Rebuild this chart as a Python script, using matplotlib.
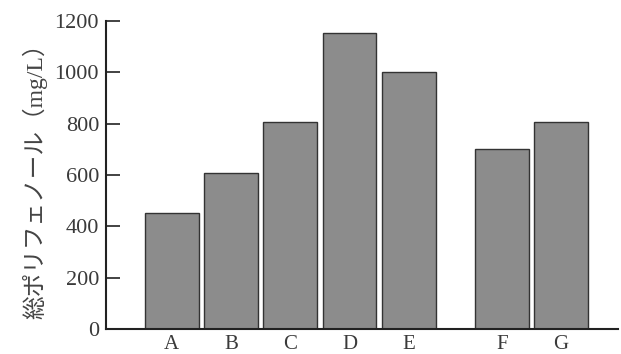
import matplotlib
matplotlib.use("Agg")
import matplotlib.pyplot as plt

categories = ["A", "B", "C", "D", "E", "F", "G"]
positions = [0, 1, 2, 3, 4, 5.57, 6.57]
values = [452, 608, 806, 1153, 1002, 701, 806]
yticks = [0, 200, 400, 600, 800, 1000, 1200]

fig = plt.figure(figsize=(6.21, 3.54), dpi=100)
ax = fig.add_axes([0.1707, 0.0706, 0.8243, 0.8701])

ax.bar(positions, values, width=0.91, color="#8c8c8c", edgecolor="#333333", linewidth=1.0)

serif = ["Liberation Serif", "DejaVu Serif"]
ax.set_xlim(-1.11, 7.53)
ax.set_ylim(0, 1200)
ax.set_yticks(yticks)
ax.set_yticklabels([str(v) for v in yticks], family=serif, fontsize=16, color="#3a3a3a")
ax.set_xticks(positions)
ax.set_xticklabels(categories, family=serif, fontsize=15, color="#3a3a3a")
ax.tick_params(axis="y", direction="in", length=10, width=1.2, color="#222222", pad=5)
ax.tick_params(axis="x", length=0, pad=4)

for s in ["top", "right"]:
    ax.spines[s].set_visible(False)
for s in ["left", "bottom"]:
    ax.spines[s].set_linewidth(1.5)
    ax.spines[s].set_color("#222222")

ax.set_ylabel("総ポリフェノール（mg/L）", family=["Liberation Serif", "Noto Sans CJK JP"], fontsize=17, color="#444444", labelpad=5)

fig.savefig("out.png", dpi=100)
